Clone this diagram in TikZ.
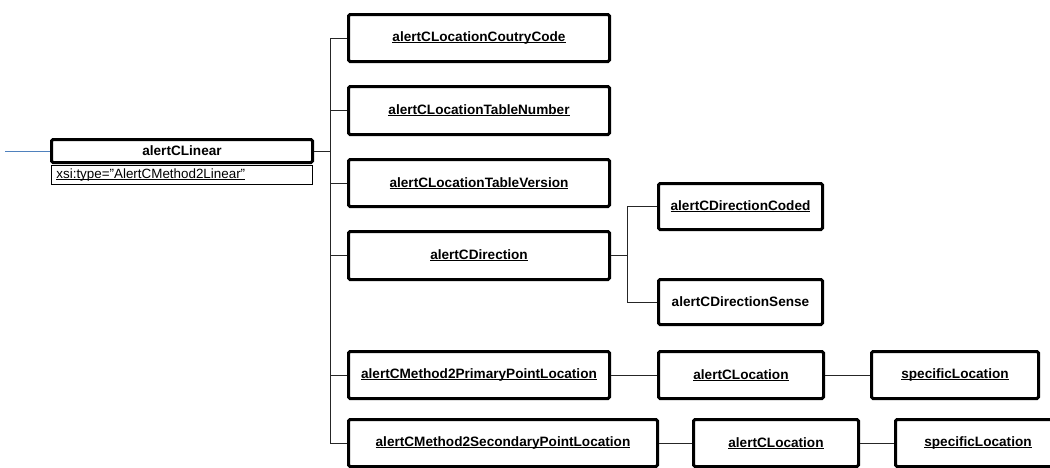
\documentclass[tikz,border=0pt]{standalone}
\usepackage{fontspec}
\setmainfont{Liberation Sans}
% underline at a fixed depth, running through descenders
\newcommand{\uln}[1]{\setbox0\hbox{#1}\rlap{\rule[-1.6pt]{\wd0}{0.8pt}}\box0}
\begin{document}
\begin{tikzpicture}[x=1pt,y=-1pt,
  elem/.style={draw=black, line width=3pt, rounded corners=1.5pt, fill=white,
    inner sep=0pt, font=\fontsize{13.6}{15}\selectfont\bfseries, align=center},
  sz/.style 2 args={minimum width=#1pt-3pt, minimum height=#2pt-3pt},
  attr/.style={draw=black, line width=0.8pt, inner sep=0pt, inner xsep=5pt,
    font=\fontsize{13.4}{15}\selectfont, align=left, minimum height=19.2pt,
    text width=251.2pt},
  link/.style={draw=black!85, line width=0.9pt},
  inlink/.style={draw={rgb,255:red,79;green,129;blue,189}, line width=0.9pt},
]
\useasboundingbox (0,0) rectangle (1050,467);
\clip (0,0) rectangle (1050,467);

% root element and its attribute
\node[elem, sz={264}{26}] (linear) at (182,151) {alertCLinear};
\node[attr] (attr) at (182,175) {\uln{xsi:type=\symbol{34}AlertCMethod2Linear\symbol{34}}};
\coordinate (in) at (5,151);
\draw[inlink] (in) -- (linear.west);

% children of alertCLinear
\node[elem, sz={264}{50}] (cc)  at (479,38)    {\uln{alertCLocationCoutryCode}};
\node[elem, sz={264}{51}] (tn)  at (479,110.5) {\uln{alertCLocationTableNumber}};
\node[elem, sz={264}{50}] (tv)  at (479,183)   {\uln{alertCLocationTableVersion}};
\node[elem, sz={264}{51}] (dir) at (479,255.5) {\uln{alertCDirection}};
\node[elem, sz={264}{50}] (pp)  at (479,375)   {\uln{alertCMethod2PrimaryPointLocation}};
\node[elem, sz={312}{50}] (sp)  at (503,443)   {\uln{alertCMethod2SecondaryPointLocation}};

% children of alertCDirection
\node[elem, sz={167}{49}] (coded) at (740.5,206.5) {\uln{alertCDirectionCoded}};
\node[elem, sz={167}{48}] (sense) at (740.5,302)   {alertCDirectionSense};

% location chains
\node[elem, sz={168}{50}] (locp)  at (741,375) {\uln{alertCLocation}};
\node[elem, sz={170}{50}] (specp) at (955,375) {\uln{specificLocation}};
\node[elem, sz={168}{50}] (locs)  at (776,443) {\uln{alertCLocation}};
\node[elem, sz={168}{50}] (specs) at (978,443) {\uln{specificLocation}};

% tree connectors
\coordinate (j) at (330,151);
\draw[link] (linear.east) -- (j);
\foreach \b in {cc,tn,tv,dir,pp,sp} \draw[link] (j) |- (\b.west);

\coordinate (k) at (627,255.5);
\draw[link] (dir.east) -- (k);
\draw[link] (k) |- (coded.west);
\draw[link] (k) |- (sense.west);

\draw[link] (pp.east) -- (locp.west);
\draw[link] (locp.east) -- (specp.west);
\draw[link] (sp.east) -- (locs.west);
\draw[link] (locs.east) -- (specs.west);
\end{tikzpicture}
\end{document}
